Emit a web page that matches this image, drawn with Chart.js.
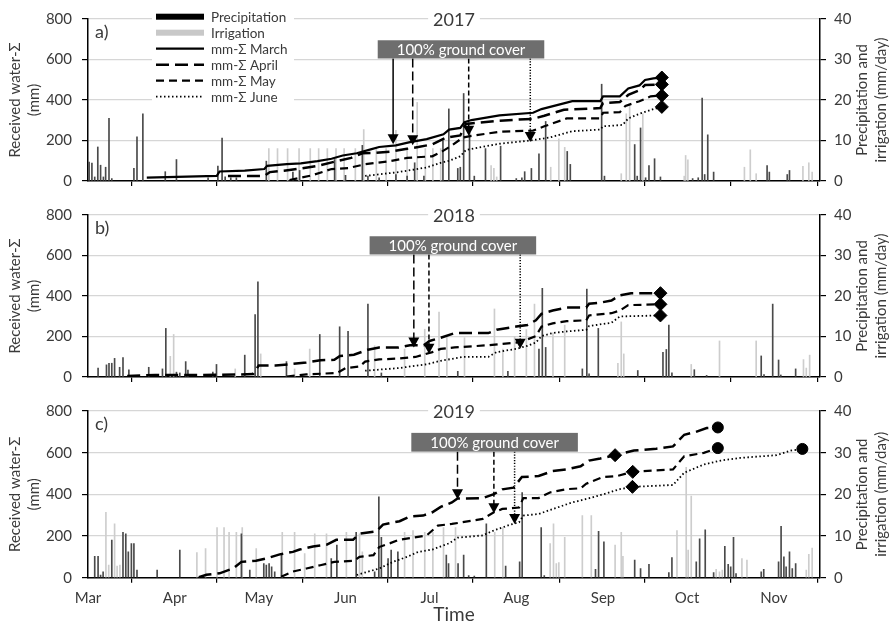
<!DOCTYPE html>
<html>
<head>
<meta charset="utf-8">
<script src="https://cdn.jsdelivr.net/npm/chart.js@4.4.1/dist/chart.umd.min.js"></script>
<style>
  body { margin: 0; background: #fff; }
  #wrap { position: relative; width: 895px; height: 622px; }
  canvas { position: absolute; left: 0; }
</style>
</head>
<body>
<div id="wrap">
  <canvas id="c2017" width="895" height="200" style="top:0px"></canvas>
  <canvas id="c2018" width="895" height="200" style="top:196px"></canvas>
  <canvas id="c2019" width="895" height="230" style="top:392px"></canvas>
</div>
<script>
// x values are days after 1 March
const monthStarts = [0, 31, 61, 92, 122, 153, 184, 214, 245];
const monthLabels = ["Mar", "Apr", "May", "Jun", "Jul", "Aug", "Sep", "Oct", "Nov"];
const dayMax = 261.5;

// ---- 2017 ----
const precip2017 = [[0.4,4.7],[1.4,4.4],[2.4,1],[3.5,8.4],[4.5,3.9],[5.5,1],[6.3,3.4],[7.5,15.5],[8.5,0.6],
  [16.4,3.1],[17.5,10.9],[19.6,16.6],[27.6,2.3],[31.6,5.3],[42.9,0.8],[46.4,3.7],[47.9,10.6],[49,1],[51,0.8],[53,0.8],
  [63.7,4.9],[73.2,2.2],[75.6,2.6],[88.1,5.3],[92,1.4],[98,8.8],[100,1.2],[104,0.8],[110,1.6],[114,1.2],[116.7,4.5],[120,1.2],
  [126.8,10],[128.9,17.8],[132.1,3.1],[133,3.4],[134.2,21.6],[136.3,12],[138,1.2],[142,8],[147.4,8.6],[153,0.6],[155,0.8],
  [156,2.3],[158.4,3.1],[161.1,6.7],[163.5,14.7],[171.2,7.3],[172.3,4.1],[183.5,23.9],[184.5,1.2],[195.3,9],[196.2,1.2],
  [197.4,13.1],[199.2,0.8],[200.4,3.8],[202.4,5.5],[204.5,1],[216,0.6],[218,0.8],[219.4,20.5],[220.3,1.6],[221.4,11.4],
  [223.5,2.2],[242.6,3.8],[243.4,2.2],[249.8,1.6],[250.6,2.6]];
const irrig2017 = [[64.6,8],[67.7,8],[71.3,8],[75.4,8],[79.4,8],[82.4,8],[85.5,8],[88.6,8],[91.5,8],[95.5,8],[98.5,12.7],
  [103,8],[106.5,8],[110,12.5],[114,8],[117.6,19.4],[120.5,8],[123.2,8],[126,8],[144,3.8],[145,3.1],[146,1],[165.3,3.4],
  [168.2,10.4],[170.3,8.3],[190.5,1.8],[192.3,16.6],[193.5,19],[198.2,16.6],[213,1.2],[213.5,6.3],[214.3,5.2],[234.5,3.4],
  [236.6,7.7],[238.7,1.8],[255.4,3.6],[257.5,4.5],[258.7,2.2]];
const sumMarch2017 = [[21,17],[46,25],[47,47],[56,51],[63,59],[64,75],[71,83],[76,87],[82,98],[87,110],[91,126],[96,137],
  [101,156],[104,168],[110,176],[115,192],[121,207],[127,231],[129,254],[133,262],[134.5,290],[137,301],[147,324],[159,337],
  [162,355],[171,387],[173,394],[183,394],[184,418],[190,418],[193,457],[197,472],[199,499],[202,507],[205,511]];
const sumApril2017 = [[50,25],[63,25],[65,44],[70,51],[76,62],[82,75],[88,95],[94,114],[98,137],[103,140],[108,145],
  [114,159],[118,168],[123,181],[128,215],[133,225],[135,282],[147,298],[159,307],[163,322],[170,352],[183,360],[184,385],
  [190,390],[193,425],[197,448],[199,474],[205,477]];
const sumMay2017 = [[72,5],[80,28],[87,59],[93,64],[99,83],[108,98],[114,114],[123,122],[127,150],[130,176],[134,215],
  [137,223],[147,243],[159,249],[163,270],[171,309],[183,309],[184,337],[190,340],[192,371],[197,394],[201,418],[205,422]];
const sumJune2017 = [[99,25],[111,44],[121,67],[126,90],[129,100],[133,122],[135,153],[147,184],[158,200],[165,215],
  [173,246],[183,254],[184,270],[191,277],[193,309],[197,332],[202,355],[205,366]];
const endMarks2017 = [[205,511],[205,477],[205,422],[205,366]];
const coverDays2017 = [103.5, 163];
const arrowDays2017 = [109, 116, 136, 158];
const arrowTips2017 = [181, 176, 223, 192];
const arrowSeries2017 = ["March", "April", "May", "June"];

// ---- 2018 ----
const precip2018 = [[3.6,2.2],[6.6,3],[7.5,3.4],[8.5,3.4],[9.5,4.6],[11.3,2.4],[12.5,4.8],[14.6,1.8],[21.7,2.4],[26.6,2],
  [27.8,12],[31.6,1.2],[32.8,1],[34.9,3.8],[35.7,1.7],[44.6,1.2],[45.9,3.1],[56,5.4],[59.7,15.4],[60.7,23.5],[70.9,3.8],
  [82.8,10.5],[89.9,12.4],[92.9,11.3],[100,18],[104.8,1],[132.1,1.4],[150,1.4],[161.1,6.9],[162.3,21.9],[163.5,7.3],
  [176.6,2],[178.2,21.7],[179,0.8],[182.3,12],[196.4,1.6],[205.4,6.1],[206.6,6.8],[207.5,12.8],[208.6,1],[216.6,1.8],
  [221,0.4],[240.5,5.2],[241.5,0.6],[244.6,18],[246.7,4.2],[247.5,0.5],[252.8,2]];
const irrig2018 = [[29.4,5.1],[30.6,10.5],[52.6,2],[61.7,5.7],[73.8,2],[79.2,6.9],[102.4,7.7],[113.1,6.9],[120.3,11.8],
  [125.4,16],[128.2,10],[134.5,9.7],[145.2,16.8],[148.2,6.9],[152.4,10],[156.6,11.7],[159.5,18],[166.1,10.9],[170.3,12.8],
  [189.3,3.4],[190.5,13.6],[191.4,5.7],[215.5,3.1],[225.6,8.9],[238.7,8.9],[255.6,4.3],[256.6,2.2],[257.8,5.4]];
const sumApril2018 = [[14,5],[24,10],[41,10],[53,12],[59,15],[61,57],[67,57],[72,63],[78,72],[83,83],[88,85],[90,104],
  [95,110],[100,135],[104,146],[111,146],[115,157],[120,157],[122,178],[126,194],[131,217],[143,217],[146,233],[153,249],
  [157,257],[160,280],[162,312],[166,328],[171,343],[178,343],[179,362],[183,367],[187,378],[190,403],[194,414],[204.5,414]];
const sumMay2018 = [[71,2],[78,13],[83,16],[89,20],[92,44],[97,52],[99,76],[104,87],[111,91],[117,99],[123,123],[126,139],
  [131,146],[143,157],[153,170],[157,186],[160,202],[162,249],[166,265],[171,276],[178,280],[179,304],[187,315],[190,328],
  [193,355],[204.5,359]];
const sumJune2018 = [[99,31],[111,44],[121,63],[126,80],[134,99],[143,99],[146,123],[153,139],[157,154],[160,170],
  [162,202],[166,217],[171,225],[178,233],[179,252],[187,268],[190,299],[204.5,304]];
const endMarks2018 = [[204.5,414],[204.5,359],[204.5,304]];
const coverDays2018 = [100.6, 160.1];
const arrowDays2018 = [116.4, 121.8, 154.4];
const arrowTips2018 = [146, 115, 139];
const arrowSeries2018 = ["April", "May", "June"];

// ---- 2019 ----
const precip2019 = [[2.4,5.1],[3.6,5.1],[4.5,0.6],[5.4,1.4],[8.5,9],[12.5,10.9],[13.5,10.5],[14.4,6.2],[15.5,8.2],
  [16.4,8.2],[17.5,1.8],[24.7,1.8],[32.8,6.6],[54.8,10.5],[57.8,1.8],[62.8,3.4],[63.7,3],[64.7,3.4],[65.6,2.6],[66.7,1.4],
  [69.1,5.4],[86.9,4.6],[88.9,7.8],[95.8,10.9],[102.4,1.4],[103.9,19.4],[104.8,9.7],[107.2,4.6],[108.3,6.6],[110.7,6.2],
  [128,5.4],[128.8,3.4],[132.2,3.4],[134.2,5.4],[136,0.5],[138,0.4],[142.3,12.9],[149.2,2.8],[154.2,3.8],[155.1,20.4],
  [161.9,12],[163,0.5],[181.3,2],[182.4,11.1],[184.3,8.6],[195.3,4.2],[197.4,2.2],[200.4,3.2],[207.5,1.2],[208.6,4.8],
  [217.3,3.8],[218.5,9.3],[220.5,11.5],[223.5,1.2],[227.5,7.5],[228.7,3.2],[229.6,2.6],[230.6,9.7],[231.5,1],[240.5,1.4],
  [241.4,2],[246.7,3.8],[247.6,12.3],[248.6,5],[249.4,2.6],[250.6,6.2],[251.6,2.2],[252.8,3.4]];
const irrig2019 = [[6.4,15.7],[7.4,3],[9.5,12.9],[10.4,2.8],[11.4,3],[38.9,6],[42,7],[46.1,12],[48.6,12],[50.4,10.9],
  [53,10.9],[55.1,12],[60.1,7],[69.4,10.9],[73.8,10.9],[77.4,5.8],[81,10.5],[85.2,10.5],[92.3,10.9],[97,10.5],[98,6.2],
  [113.1,10.9],[116.1,11.3],[120.3,10.9],[123.2,10.9],[127,12],[131.3,12],[145.3,10.9],[148.2,12],[165.1,8.2],[166.3,12.9],
  [167.3,3.4],[168.2,3.6],[170.3,9.7],[176.6,14.9],[179.8,14.9],[188.3,7.8],[190.5,10.9],[191.1,5.1],[210.4,11.3],
  [213.7,26.5],[214.4,6.6],[215.5,19.6],[224.4,2],[225.6,1.4],[226.6,1.8],[233.6,4.6],[235.4,4.2],[256.6,1.8],[257.5,5.6],
  [258.7,7.1]];
const sumApril2019 = [[39.6,2],[42.3,14],[47,21],[51.8,44],[54.8,76],[60,81],[63.7,92],[68.5,112],[73.2,124],[75.6,135],
  [80.4,150],[85.2,158],[88.7,182],[94.7,182],[97,211],[103,222],[105.4,255],[111.3,271],[114.9,293],[119.7,298],[123,314],
  [126,340],[130,361],[132,380],[141,382],[145,401],[148,424],[152,432],[155,483],[161,488],[166,512],[171,520],[176,535],
  [179,562],[183,572],[188.3,588],[195,610],[203,619],[209,630],[213,686],[217,699],[221,718],[225,721]];
const sumMay2019 = [[69,5],[73,29],[78,44],[83,60],[88,76],[95,81],[97,100],[102,108],[104,147],[108,166],[111,182],
  [116,192],[121,203],[125,250],[130,258],[141,282],[145,314],[148,330],[154,337],[155.5,382],[161,382],[165,409],[171,425],
  [176,429],[178,451],[184,483],[189,488],[194.6,508],[209,520],[213,583],[220,599],[225,622]];
const sumJune2019 = [[96,13],[100,29],[104,44],[109,76],[114,100],[118,124],[123,135],[126,150],[129,165],[132,192],
  [141,203],[145,227],[151,255],[154,266],[155.5,298],[161,306],[167,334],[173,361],[180,385],[185,404],[190,425],
  [194.5,436],[209,445],[213,504],[220,543],[226,562],[233,575],[246,588],[251,610],[255.2,618]];
const midMarks2019 = [[188.3,588],[194.6,508],[194.5,436]];
const endMarks2019 = [[225,721],[225,622],[255.2,618]];
const coverDays2019 = [115.5, 175];
const arrowDays2019 = [132, 145, 152.4];
const arrowTips2019 = [377, 309, 258];
const arrowSeries2019 = ["April", "May", "June"];

// ---- styles ----
const FONT = "Lato, 'Open Sans', sans-serif";
const TXT = "#3a3a3a";
const BOX_MM = [605, 695];
const seriesStyle = {
  March: { dash: [], width: 2.2, arrowDash: [] },
  April: { dash: [13, 6], width: 2.5, arrowDash: [9, 4] },
  May: { dash: [8, 5], width: 2.2, arrowDash: [5, 3] },
  June: { dash: [1.5, 2.5], width: 1.8, arrowDash: [1.2, 1.6] },
};

const pts = (arr) => arr.map(([x, y]) => ({ x, y }));

const decor = {
  id: "decor",
  afterDraw(chart, args, o) {
    const { ctx, chartArea: a } = chart;
    const x = chart.scales.x, y = chart.scales.y;
    ctx.save();

    // ground cover box + arrows
    const x1 = x.getPixelForValue(o.cover[0]), x2 = x.getPixelForValue(o.cover[1]);
    const yt = y.getPixelForValue(BOX_MM[1]), yb = y.getPixelForValue(BOX_MM[0]);
    o.arrowDays.forEach((d, i) => {
      const st = seriesStyle[o.arrowSeries[i]];
      const ax = x.getPixelForValue(d);
      const tip = y.getPixelForValue(o.arrowTips[i]);
      ctx.beginPath();
      ctx.setLineDash(st.arrowDash);
      ctx.lineWidth = 1.5;
      ctx.strokeStyle = "#000";
      ctx.moveTo(ax, yb);
      ctx.lineTo(ax, tip - 9);
      ctx.stroke();
      ctx.setLineDash([]);
      ctx.beginPath();
      ctx.moveTo(ax - 5.5, tip - 10);
      ctx.lineTo(ax + 5.5, tip - 10);
      ctx.lineTo(ax, tip);
      ctx.closePath();
      ctx.fillStyle = "#000";
      ctx.fill();
    });
    ctx.fillStyle = "#6e6e6e";
    ctx.fillRect(x1, yt, x2 - x1, yb - yt);
    ctx.fillStyle = "#fff";
    ctx.font = "15px " + FONT;
    ctx.textAlign = "center";
    ctx.textBaseline = "middle";
    ctx.fillText("100% ground cover", (x1 + x2) / 2, (yt + yb) / 2 + 1);

    // year title over the top grid line
    const cx = (a.left + a.right) / 2;
    ctx.font = "18px " + FONT;
    const w = ctx.measureText(o.year).width;
    ctx.fillStyle = "#fff";
    ctx.fillRect(cx - w / 2 - 5, a.top - 10, w + 10, 20);
    ctx.fillStyle = TXT;
    ctx.fillText(o.year, cx, a.top + 1);

    // panel letter
    ctx.textAlign = "left";
    ctx.fillText(o.panel, a.left + 7, a.top + 13);

    // right axis title
    ctx.font = "15px " + FONT;
    ctx.textAlign = "center";
    const cy = (a.top + a.bottom) / 2;
    [["Precipitation and", 862], ["irrigation (mm/day)", 881]].forEach(([t, tx]) => {
      ctx.save();
      ctx.translate(tx, cy);
      ctx.rotate(-Math.PI / 2);
      ctx.fillText(t, 0, 0);
      ctx.restore();
    });

    // legend (panel a)
    if (o.legend) {
      ctx.fillStyle = "#fff";
      ctx.fillRect(152, 7, 142, 98);
      const rows = [["Precipitation", "bar", "#000"], ["Irrigation", "bar", "#c8c8c8"],
        ["mm-Σ March", "March"], ["mm-Σ April", "April"], ["mm-Σ May", "May"], ["mm-Σ June", "June"]];
      ctx.font = "13.5px " + FONT;
      ctx.textAlign = "left";
      rows.forEach((r, i) => {
        const ry = 16.7 + i * 16;
        if (r[1] === "bar") {
          ctx.fillStyle = r[2];
          ctx.fillRect(156, ry - 3, 48, 6);
        } else {
          const st = seriesStyle[r[1]];
          ctx.beginPath();
          ctx.setLineDash(st.dash);
          ctx.lineWidth = st.width;
          ctx.strokeStyle = "#000";
          ctx.moveTo(156, ry);
          ctx.lineTo(204, ry);
          ctx.stroke();
          ctx.setLineDash([]);
        }
        ctx.fillStyle = TXT;
        ctx.fillText(r[0], 211, ry + 1);
      });
    }
    ctx.restore();
  },
};

function makeChart(id, c) {
  const datasets = [];
  c.lines.forEach(([name, data]) => {
    const st = seriesStyle[name];
    datasets.push({ type: "line", data: pts(data), borderColor: "#000", borderWidth: st.width,
      borderDash: st.dash, pointRadius: 0, tension: 0, fill: false, yAxisID: "y", order: 2 });
  });
  if (c.diamonds) {
    datasets.push({ type: "scatter", data: pts(c.diamonds), pointStyle: "rectRot", pointRadius: 6.5,
      backgroundColor: "#000", borderColor: "#000", yAxisID: "y", order: 1 });
  }
  if (c.circles) {
    datasets.push({ type: "scatter", data: pts(c.circles), pointStyle: "circle", pointRadius: 5.5,
      backgroundColor: "#000", borderColor: "#000", yAxisID: "y", order: 1 });
  }
  datasets.push({ type: "bar", data: pts(c.irrig), backgroundColor: "#cdcdcd", barThickness: 1,
    grouped: false, yAxisID: "y2", order: 4 });
  datasets.push({ type: "bar", data: pts(c.precip), backgroundColor: "#4a4a4a", barThickness: 1,
    grouped: false, yAxisID: "y2", order: 3 });

  new Chart(document.getElementById(id), {
    type: "line",
    data: { datasets },
    options: {
      responsive: false,
      animation: false,
      devicePixelRatio: 1,
      layout: { padding: { top: 17, left: 0, right: 0, bottom: 0 } },
      plugins: { legend: { display: false }, tooltip: { enabled: false }, decor: c.decor },
      scales: {
        x: {
          type: "linear", min: 0, max: dayMax, offset: false,
          afterBuildTicks: (s) => { s.ticks = monthStarts.map((v) => ({ value: v })); },
          afterFit: (s) => { s.height = c.xHeight; },
          ticks: { display: c.showX, autoSkip: false, maxRotation: 0, padding: 6, color: TXT,
            font: { family: FONT, size: 15 }, callback: (v, i) => monthLabels[i] },
          grid: { drawOnChartArea: false, tickColor: "#000", tickLength: 5, lineWidth: 1.2 },
          border: { color: "#000", width: 1.5 },
          title: { display: c.showX, text: "Time", color: TXT, padding: 0,
            font: { family: FONT, size: 19, lineHeight: 0.8 } },
        },
        y: {
          position: "left", min: 0, max: 800,
          afterFit: (s) => { s.width = 88; },
          ticks: { stepSize: 200, padding: 10, color: TXT, font: { family: FONT, size: 15 } },
          grid: { color: "#d6d6d6", lineWidth: 1.2, tickColor: "#000", tickLength: 6 },
          border: { color: "#000", width: 1.5 },
          title: { display: true, text: ["Received water-Σ", "(mm)"], color: TXT,
            padding: { top: 6, bottom: 0 }, font: { family: FONT, size: 15, lineHeight: 1.25 } },
        },
        y2: {
          position: "right", min: 0, max: 40,
          afterFit: (s) => { s.width = 75; },
          ticks: { stepSize: 10, padding: 8, color: TXT, font: { family: FONT, size: 15 } },
          grid: { drawOnChartArea: false, tickColor: "#000", tickLength: 6, lineWidth: 1.2 },
          border: { color: "#000", width: 1.5 },
        },
      },
    },
    plugins: [decor],
  });
}

makeChart("c2017", {
  lines: [["March", sumMarch2017], ["April", sumApril2017], ["May", sumMay2017], ["June", sumJune2017]],
  diamonds: endMarks2017, precip: precip2017, irrig: irrig2017, xHeight: 12, showX: false,
  decor: { year: "2017", panel: "a)", legend: true, cover: coverDays2017,
    arrowDays: arrowDays2017, arrowTips: arrowTips2017, arrowSeries: arrowSeries2017 },
});
makeChart("c2018", {
  lines: [["April", sumApril2018], ["May", sumMay2018], ["June", sumJune2018]],
  diamonds: endMarks2018, precip: precip2018, irrig: irrig2018, xHeight: 13.3, showX: false,
  decor: { year: "2018", panel: "b)", legend: false, cover: coverDays2018,
    arrowDays: arrowDays2018, arrowTips: arrowTips2018, arrowSeries: arrowSeries2018 },
});
makeChart("c2019", {
  lines: [["April", sumApril2019], ["May", sumMay2019], ["June", sumJune2019]],
  diamonds: midMarks2019, circles: endMarks2019, precip: precip2019, irrig: irrig2019, xHeight: 44.3, showX: true,
  decor: { year: "2019", panel: "c)", legend: false, cover: coverDays2019,
    arrowDays: arrowDays2019, arrowTips: arrowTips2019, arrowSeries: arrowSeries2019 },
});
</script>
</body>
</html>
